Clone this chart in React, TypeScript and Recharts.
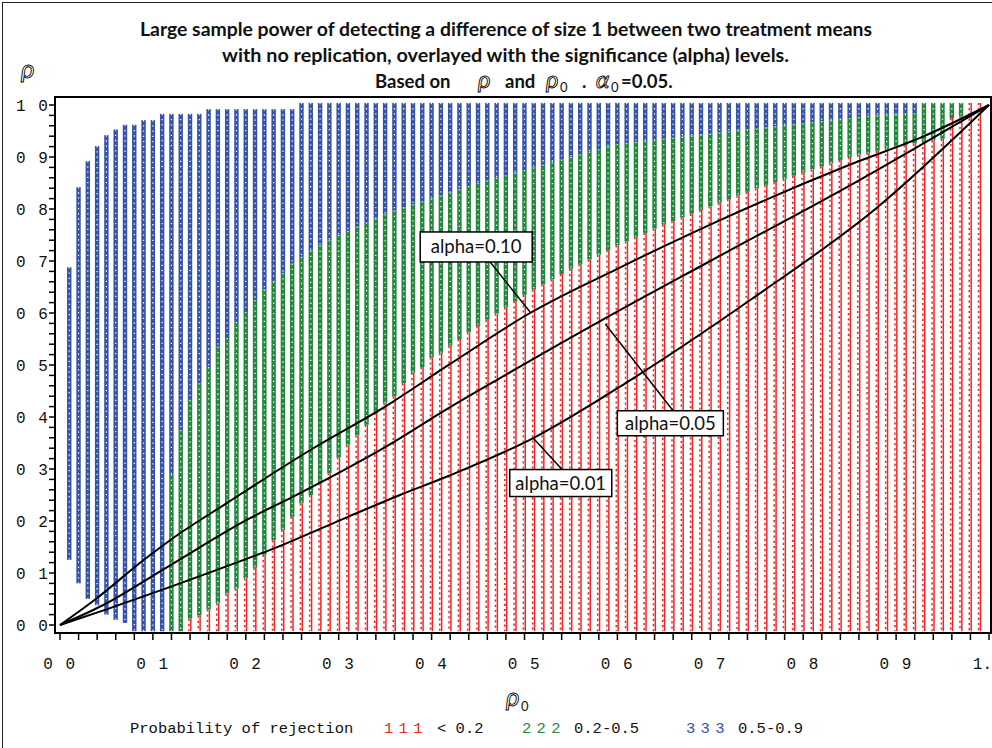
import {
  ComposedChart,
  Bar,
  Line,
  XAxis,
  YAxis,
  ReferenceArea,
  ReferenceLine,
  ReferenceDot,
} from 'recharts';

// rho0 of every plotted column
const RHO0 = [
  0.01, 0.02, 0.03, 0.04, 0.05, 0.06, 0.07, 0.08, 0.09, 0.1,
  0.11, 0.12, 0.13, 0.14, 0.15, 0.16, 0.17, 0.18, 0.19, 0.2,
  0.21, 0.22, 0.23, 0.24, 0.25, 0.26, 0.27, 0.28, 0.29, 0.3,
  0.31, 0.32, 0.33, 0.34, 0.35, 0.36, 0.37, 0.38, 0.39, 0.4,
  0.41, 0.42, 0.43, 0.44, 0.45, 0.46, 0.47, 0.48, 0.49, 0.5,
  0.51, 0.52, 0.53, 0.54, 0.55, 0.56, 0.57, 0.58, 0.59, 0.6,
  0.61, 0.62, 0.63, 0.64, 0.65, 0.66, 0.67, 0.68, 0.69, 0.7,
  0.71, 0.72, 0.73, 0.74, 0.75, 0.76, 0.77, 0.78, 0.79, 0.8,
  0.81, 0.82, 0.83, 0.84, 0.85, 0.86, 0.87, 0.88, 0.89, 0.9,
  0.91, 0.92, 0.93, 0.94, 0.95, 0.96, 0.97, 0.98, 0.99,
];

// lowest rho reached by the column
const COL_BOTTOM = [
  0.125, 0.08, 0.05, 0.038, 0.02, 0.01, 0.004, -0.012, -0.012, -0.012,
  -0.012, -0.012, -0.012, -0.012, -0.012, -0.012, -0.012, -0.012, -0.012, -0.012,
  -0.012, -0.012, -0.012, -0.012, -0.012, -0.012, -0.012, -0.012, -0.012, -0.012,
  -0.012, -0.012, -0.012, -0.012, -0.012, -0.012, -0.012, -0.012, -0.012, -0.012,
  -0.012, -0.012, -0.012, -0.012, -0.012, -0.012, -0.012, -0.012, -0.012, -0.012,
  -0.012, -0.012, -0.012, -0.012, -0.012, -0.012, -0.012, -0.012, -0.012, -0.012,
  -0.012, -0.012, -0.012, -0.012, -0.012, -0.012, -0.012, -0.012, -0.012, -0.012,
  -0.012, -0.012, -0.012, -0.012, -0.012, -0.012, -0.012, -0.012, -0.012, -0.012,
  -0.012, -0.012, -0.012, -0.012, -0.012, -0.012, -0.012, -0.012, -0.012, -0.012,
  -0.012, -0.012, -0.012, -0.012, -0.012, -0.012, -0.012, -0.012, -0.012,
];

// top of the "1" (< 0.2) part
const RED_TOP = [
  0.125, 0.08, 0.05, 0.038, 0.02, 0.01, 0.004, -0.012, -0.012, -0.012,
  -0.012, -0.012, -0.012, 0.012, 0.018, 0.03, 0.042, 0.06, 0.07, 0.09,
  0.11, 0.135, 0.163, 0.183, 0.208, 0.234, 0.25, 0.273, 0.292, 0.323,
  0.346, 0.365, 0.385, 0.408, 0.427, 0.44, 0.465, 0.485, 0.496, 0.515,
  0.523, 0.537, 0.55, 0.563, 0.575, 0.587, 0.599, 0.611, 0.623, 0.635,
  0.645, 0.655, 0.665, 0.675, 0.685, 0.694, 0.703, 0.712, 0.721, 0.73,
  0.738, 0.746, 0.754, 0.762, 0.77, 0.777, 0.784, 0.791, 0.798, 0.805,
  0.812, 0.819, 0.826, 0.833, 0.84, 0.846, 0.852, 0.858, 0.864, 0.87,
  0.876, 0.882, 0.888, 0.894, 0.9, 0.904, 0.908, 0.912, 0.916, 0.92,
  0.923, 0.926, 0.929, 0.932, 0.935, 0.975, 0.978, 1.004, 1.004,
];

// top of the "2" (0.2-0.5) part
const GREEN_TOP = [
  0.125, 0.08, 0.05, 0.038, 0.02, 0.01, 0.004, -0.012, -0.012, -0.012,
  -0.012, 0.29, 0.375, 0.433, 0.465, 0.496, 0.535, 0.552, 0.583, 0.602,
  0.625, 0.645, 0.66, 0.677, 0.695, 0.708, 0.72, 0.73, 0.74, 0.75,
  0.758, 0.766, 0.774, 0.782, 0.79, 0.797, 0.803, 0.809, 0.815, 0.82,
  0.826, 0.832, 0.838, 0.844, 0.85, 0.855, 0.86, 0.865, 0.87, 0.875,
  0.88, 0.885, 0.89, 0.895, 0.9, 0.905, 0.91, 0.915, 0.92, 0.925,
  0.927, 0.929, 0.931, 0.933, 0.935, 0.937, 0.939, 0.941, 0.943, 0.945,
  0.947, 0.949, 0.951, 0.953, 0.955, 0.957, 0.959, 0.961, 0.963, 0.965,
  0.967, 0.969, 0.971, 0.973, 0.975, 0.977, 0.979, 0.98, 0.981, 0.982,
  0.983, 0.984, 1.004, 1.004, 1.004, 1.004, 1.004, 1.004, 1.004,
];

// top of the column ("3", 0.5-0.9, above GREEN_TOP)
const COL_TOP = [
  0.688, 0.842, 0.892, 0.921, 0.942, 0.953, 0.962, 0.962, 0.971, 0.971,
  0.983, 0.983, 0.983, 0.983, 0.983, 0.992, 0.992, 0.992, 0.992, 0.992,
  0.992, 0.992, 0.992, 0.992, 0.992, 1.004, 1.004, 1.004, 1.004, 1.004,
  1.004, 1.004, 1.004, 1.004, 1.004, 1.004, 1.004, 1.004, 1.004, 1.004,
  1.004, 1.004, 1.004, 1.004, 1.004, 1.004, 1.004, 1.004, 1.004, 1.004,
  1.004, 1.004, 1.004, 1.004, 1.004, 1.004, 1.004, 1.004, 1.004, 1.004,
  1.004, 1.004, 1.004, 1.004, 1.004, 1.004, 1.004, 1.004, 1.004, 1.004,
  1.004, 1.004, 1.004, 1.004, 1.004, 1.004, 1.004, 1.004, 1.004, 1.004,
  1.004, 1.004, 1.004, 1.004, 1.004, 1.004, 1.004, 1.004, 1.004, 1.004,
  1.004, 1.004, 1.004, 1.004, 1.004, 1.004, 1.004, 1.004, 1.004,
];

// alpha curves
const A10_X = [0, 0.04, 0.09, 0.12, 0.18, 0.27, 0.35, 0.42, 0.506, 0.6, 0.7, 0.85, 0.93, 1];
const A10_Y = [0, 0.052, 0.125, 0.165, 0.235, 0.337, 0.42, 0.502, 0.6, 0.685, 0.77, 0.885, 0.94, 1];
const A05_X = [0, 0.045, 0.115, 0.205, 0.25, 0.35, 0.42, 0.47, 0.58, 0.7, 0.85, 1];
const A05_Y = [0, 0.037, 0.111, 0.206, 0.246, 0.342, 0.419, 0.471, 0.583, 0.7, 0.845, 1];
const A01_X = [0, 0.05, 0.115, 0.205, 0.23, 0.31, 0.366, 0.42, 0.51, 0.614, 0.743, 0.879, 1];
const A01_Y = [0, 0.03, 0.071, 0.13, 0.147, 0.208, 0.25, 0.288, 0.36, 0.471, 0.625, 0.802, 1];

const X_TICKS = [
  0, 0.02, 0.04, 0.06, 0.08, 0.1, 0.12, 0.14, 0.16, 0.18, 0.2, 0.22, 0.24, 0.26, 0.28, 0.3,
  0.32, 0.34, 0.36, 0.38, 0.4, 0.42, 0.44, 0.46, 0.48, 0.5, 0.52, 0.54, 0.56, 0.58, 0.6,
  0.62, 0.64, 0.66, 0.68, 0.7, 0.72, 0.74, 0.76, 0.78, 0.8, 0.82, 0.84, 0.86, 0.88, 0.9,
  0.92, 0.94, 0.96, 0.98, 1,
];
const Y_TICKS = X_TICKS;
const MAJOR = [0, 0.1, 0.2, 0.3, 0.4, 0.5, 0.6, 0.7, 0.8, 0.9, 1];
const X_LABELS = ['0 0', '0 1', '0 2', '0 3', '0 4', '0 5', '0 6', '0 7', '0 8', '0 9', '1.'];
const Y_LABELS = ['0 0', '0 1', '0 2', '0 3', '0 4', '0 5', '0 6', '0 7', '0 8', '0 9', '1 0'];

const RED = '#ec2626';
const GREEN = '#23883c';
const BLUE = '#3553a8';
const MONO = '"Liberation Mono", "DejaVu Sans Mono", monospace';
const SANS = 'Lato, "Open Sans", sans-serif';

const columns = RHO0.map((r, i) => ({
  rho0: r,
  base: COL_BOTTOM[i],
  red: RED_TOP[i] - COL_BOTTOM[i],
  green: GREEN_TOP[i] - RED_TOP[i],
  blue: COL_TOP[i] - GREEN_TOP[i],
}));

const toLine = (xs: number[], ys: number[]) => xs.map((x, i) => ({ rho0: x, rho: ys[i] }));
const alpha10 = toLine(A10_X, A10_Y);
const alpha05 = toLine(A05_X, A05_Y);
const alpha01 = toLine(A01_X, A01_Y);

// stacked characters drawn as dashed strips
const thinColumn = (color: string) => (props: any) => {
  const { x, y, width, height } = props;
  if (!height || height < 0.5) return <g />;
  const cx = x + width / 2;
  return (
    <g>
      <line x1={cx + 0.8} x2={cx + 0.8} y1={y} y2={y + height} stroke={color} strokeWidth={1.5} />
      <line x1={cx - 1.1} x2={cx - 1.1} y1={y} y2={y + height} stroke={color} strokeWidth={1.5} strokeDasharray="2.2 3" />
    </g>
  );
};

const solidColumn = (color: string) => (props: any) => {
  const { x, y, width, height } = props;
  if (!height || height < 0.5) return <g />;
  const cx = x + width / 2;
  return (
    <g>
      <rect x={cx - 2.2} y={y} width={4.4} height={height} fill={color} />
      <line x1={cx} x2={cx} y1={y} y2={y + height} stroke="#fff" strokeWidth={1.2} strokeDasharray="1.3 3.9" />
    </g>
  );
};

const majorIndex = (v: number) => MAJOR.findIndex((m) => Math.abs(m - v) < 1e-6);

const XTick = ({ x, payload }: any) => {
  const i = majorIndex(payload.value);
  if (i < 0) return <g />;
  const last = i === MAJOR.length - 1;
  return (
    <text
      x={last ? 992 : x}
      y={669}
      textAnchor={last ? 'end' : 'middle'}
      fontFamily={MONO}
      fontSize={16}
      letterSpacing={last ? 0 : 1.5}
      fill="#111"
    >
      {X_LABELS[i]}
    </text>
  );
};

const YTick = ({ y, payload }: any) => {
  const i = majorIndex(payload.value);
  if (i < 0) return <g />;
  return (
    <text x={16} y={y + 6} fontFamily={MONO} fontSize={16} letterSpacing={1.5} fill="#111">
      {Y_LABELS[i]}
    </text>
  );
};

const labelBox = (text: string, w: number, h: number) => (props: any) => {
  const { cx, cy } = props;
  return (
    <g>
      <rect x={cx - w / 2} y={cy - h / 2} width={w} height={h} fill="#fff" stroke="#000" strokeWidth={1.5} />
      <text x={cx} y={cy + 6.5} textAnchor="middle" fontFamily={SANS} fontSize={18.5} fill="#111">
        {text}
      </text>
    </g>
  );
};

const symbolStyle = { fill: 'none', stroke: '#000', strokeWidth: 0.9, fontStyle: 'italic', fontWeight: 400 } as const;

export default function App() {
  return (
    <div style={{ position: 'absolute', left: 0, top: 0, width: 992, height: 748, overflow: 'hidden', background: '#fff' }}>
      <div style={{ position: 'absolute', left: 2, top: 2, width: 1000, height: 800, borderLeft: '1.5px solid #222', borderTop: '1.5px solid #222' }} />
      <ComposedChart
        width={992}
        height={748}
        data={columns}
        margin={{ top: 97, right: 1, bottom: 85, left: 0 }}
        style={{ position: 'absolute', left: 0, top: 0 }}
      >
        <XAxis
          dataKey="rho0"
          type="number"
          domain={[-0.00538, 1.00215]}
          allowDataOverflow
          ticks={X_TICKS}
          interval={0}
          tickSize={7}
          height={30}
          axisLine={false}
          tickLine={{ stroke: '#000', strokeWidth: 1.5 }}
          tick={<XTick />}
        />
        <YAxis
          type="number"
          domain={[-0.01538, 1.01538]}
          allowDataOverflow
          ticks={Y_TICKS}
          interval={0}
          tickSize={6}
          width={55}
          axisLine={false}
          tickLine={{ stroke: '#000', strokeWidth: 1.5 }}
          tick={<YTick />}
        />
        <Bar dataKey="base" stackId="col" barSize={5} shape={() => <g />} isAnimationActive={false} />
        <Bar dataKey="red" stackId="col" barSize={5} shape={thinColumn(RED)} isAnimationActive={false} />
        <Bar dataKey="green" stackId="col" barSize={5} shape={solidColumn(GREEN)} isAnimationActive={false} />
        <Bar dataKey="blue" stackId="col" barSize={5} shape={solidColumn(BLUE)} isAnimationActive={false} />
        <Line data={alpha10} dataKey="rho" type="monotone" stroke="#000" strokeWidth={2} dot={false} isAnimationActive={false} />
        <Line data={alpha05} dataKey="rho" type="monotone" stroke="#000" strokeWidth={2} dot={false} isAnimationActive={false} />
        <Line data={alpha01} dataKey="rho" type="monotone" stroke="#000" strokeWidth={2} dot={false} isAnimationActive={false} />
        <ReferenceArea
          x1={-0.00538}
          x2={1.00215}
          y1={-0.01538}
          y2={1.01538}
          fill="none"
          fillOpacity={0}
          stroke="#000"
          strokeWidth={2}
          ifOverflow="visible"
        />
        <ReferenceLine segment={[{ x: 0.463, y: 0.698 }, { x: 0.506, y: 0.602 }]} stroke="#000" strokeWidth={1.5} />
        <ReferenceLine segment={[{ x: 0.587, y: 0.579 }, { x: 0.66, y: 0.412 }]} stroke="#000" strokeWidth={1.5} />
        <ReferenceLine segment={[{ x: 0.509, y: 0.36 }, { x: 0.541, y: 0.298 }]} stroke="#000" strokeWidth={1.5} />
        <ReferenceDot x={0.448} y={0.727} r={0} shape={labelBox('alpha=0.10', 112, 30)} />
        <ReferenceDot x={0.657} y={0.388} r={0} shape={labelBox('alpha=0.05', 106, 25)} />
        <ReferenceDot x={0.539} y={0.273} r={0} shape={labelBox('alpha=0.01', 102, 27)} />
      </ComposedChart>
      <svg width={992} height={748} style={{ position: 'absolute', left: 0, top: 0, pointerEvents: 'none' }}>
        <g fontFamily={SANS} fontWeight={700} fontSize={18.5} fill="#111">
          <text x={140} y={36} textLength={732} lengthAdjust="spacingAndGlyphs">
            Large sample power of detecting a difference of size 1 between two treatment means
          </text>
          <text x={222} y={62} textLength={567} lengthAdjust="spacingAndGlyphs">
            with no replication, overlayed with the significance (alpha) levels.
          </text>
          <text y={88}>
            <tspan x={375}>Based on</tspan>
            <tspan x={478} fontSize={24} {...symbolStyle}>ρ</tspan>
            <tspan x={505}>and</tspan>
            <tspan x={546} fontSize={24} {...symbolStyle}>ρ</tspan>
            <tspan x={560} fontSize={13} fontWeight={400} dy={4}>0</tspan>
            <tspan x={582} dy={-4}>.</tspan>
            <tspan x={596} fontSize={24} {...symbolStyle}>α</tspan>
            <tspan x={611} fontSize={13} fontWeight={400} dy={4}>0</tspan>
            <tspan x={621} dy={-4}>=0.05.</tspan>
          </text>
        </g>
        <text x={21} y={78} fontFamily={SANS} fontSize={26} {...symbolStyle}>ρ</text>
        <text x={506} y={706} fontFamily={SANS} fontSize={26} {...symbolStyle}>
          ρ
        </text>
        <text x={521} y={711} fontFamily={SANS} fontSize={13} fill="#111">0</text>
        <g fontFamily={MONO} fontSize={15.5} fill="#111">
          <text x={130} y={733}>Probability of rejection</text>
          <text x={384} y={733} fill={RED} letterSpacing={-2}>1 1 1</text>
          <text x={437} y={733}>&lt; 0.2</text>
          <text x={522} y={733} fill={GREEN} letterSpacing={-2}>2 2 2</text>
          <text x={574} y={733}>0.2-0.5</text>
          <text x={686} y={733} fill={BLUE} letterSpacing={-2}>3 3 3</text>
          <text x={738} y={733}>0.5-0.9</text>
        </g>
      </svg>
    </div>
  );
}
